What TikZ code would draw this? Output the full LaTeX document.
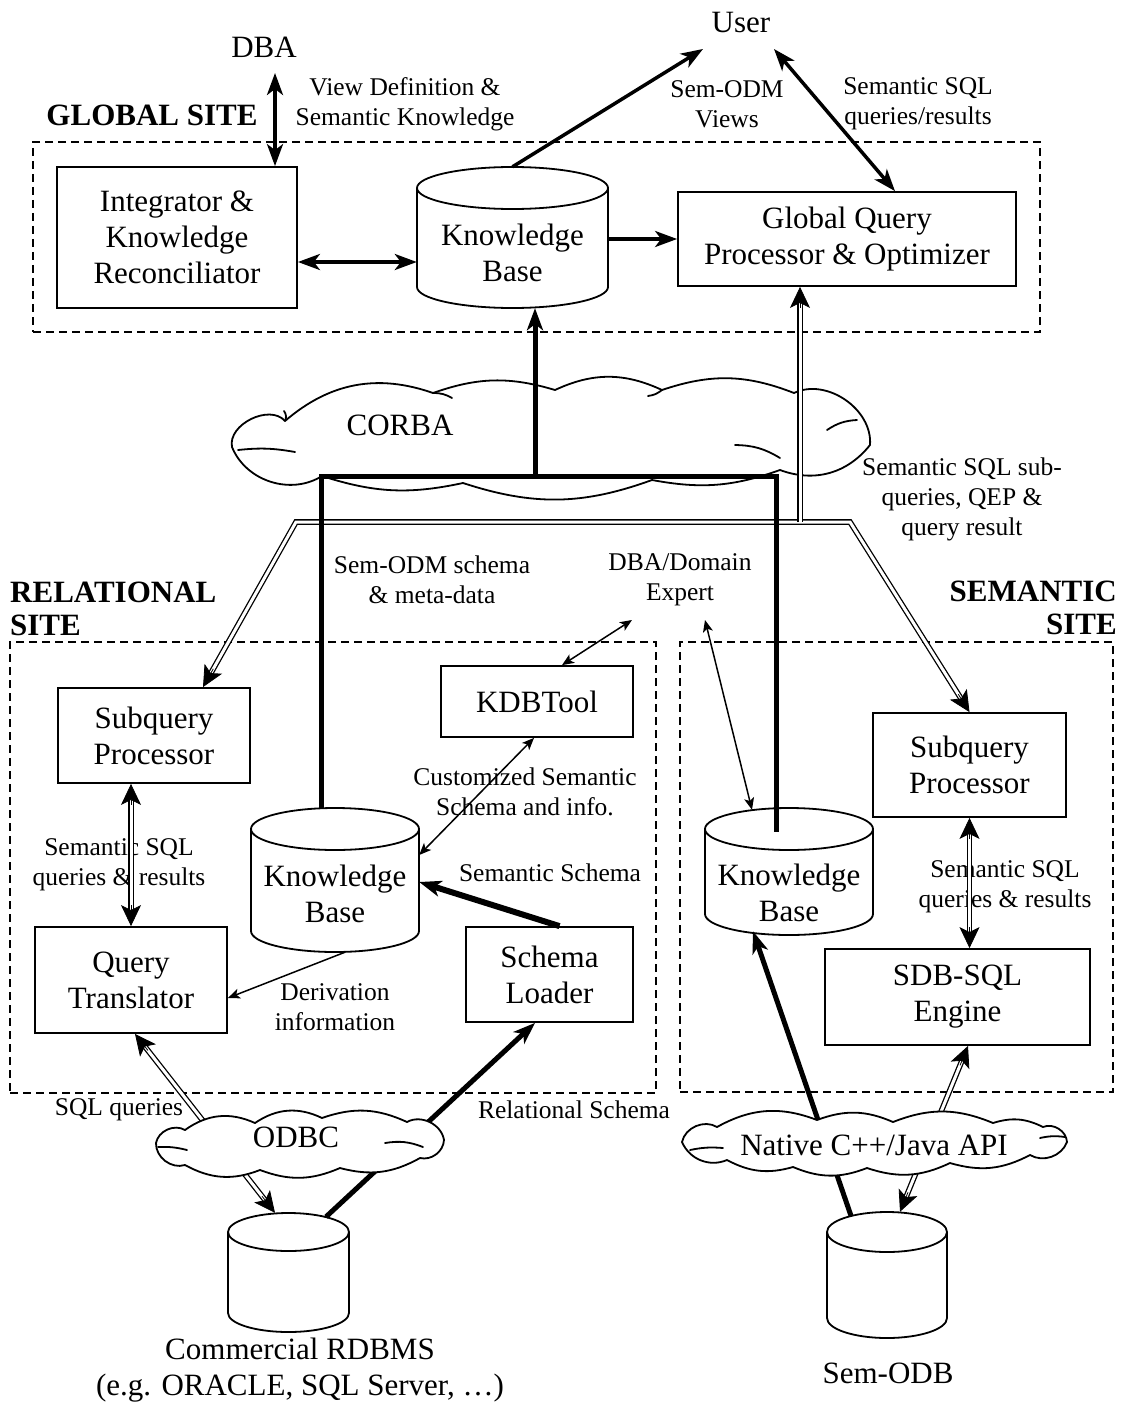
\documentclass[tikz,border=0pt]{standalone}
\usepackage{fontspec}
\setmainfont{Liberation Serif}
\usetikzlibrary{arrows.meta,calc}

\newcommand\mycyl[6]{%
 \fill[white] (#2,-#4-#6) -- (#2,-#5+#6) arc[start angle=180,end angle=360,x radius={(#3-#2)/2},y radius=#6] -- (#3,-#4-#6) -- cycle;
 \draw[line width=1.8pt] (#2,-#4-#6) -- (#2,-#5+#6) arc[start angle=180,end angle=360,x radius={(#3-#2)/2},y radius=#6] -- (#3,-#4-#6);
 \draw[line width=1.8pt, fill=white] ({(#2+#3)/2},-#4-#6) ellipse [x radius={(#3-#2)/2},y radius=#6];
 \node[inner sep=0pt, minimum width={(#3-#2)*1pt}, minimum height={(#5-#4)*1pt}] (#1) at ({(#2+#3)/2},{-(#4+#5)/2}) {};
}
% arrow tip placed at #2, coming from #1 (for double lines)
\newcommand\dtip[2]{\draw[line width=0.8pt,-dhd] ($(#2)!21pt!(#1)$) -- (#2);}

\tikzset{
 big/.style={font=\fontsize{31}{36}\selectfont, align=center, inner sep=0pt},
 lbl/.style={font=\fontsize{25.5}{30}\selectfont, align=center, inner sep=0pt},
 sitelbl/.style={font=\bfseries\fontsize{31}{33}\selectfont, inner sep=0pt},
 box/.style={draw, line width=1.8pt, big},
 sitebox/.style={draw, line width=1.8pt, dash pattern=on 8pt off 5pt, inner sep=0pt},
 cloudline/.style={draw, fill=white, line width=1.8pt, line join=round},
 curl/.style={line width=1.8pt, line cap=round},
 hd/.tip={Stealth[length=22pt,width=16pt,inset=6pt]},
 thd/.tip={Stealth[length=12pt,width=10pt,inset=3pt]},
 dhd/.tip={Stealth[length=21pt,width=20pt,inset=5pt]},
 tharr/.style={line width=3.5pt},
 tnarr/.style={line width=1.5pt},
 bus/.style={line width=5pt},
 dbl/.style={double, double distance=3pt, line width=1.3pt},
}

\begin{document}
\begin{tikzpicture}[x=1pt,y=1pt]
\fill[white] (0,0) rectangle (1123,-1407);
\useasboundingbox (0,0) rectangle (1123,-1407);

% site boxes
\node[sitebox, minimum width=1007pt, minimum height=190pt] (gsite) at (536.5,-237) {};
\node[sitebox, minimum width=646pt, minimum height=451pt] (rsite) at (333,-867.5) {};
\node[sitebox, minimum width=433pt, minimum height=450pt] (ssite) at (896.5,-867) {};

% site labels
\node[sitelbl] (glbl) at (152,-115) {GLOBAL SITE};
\node[sitelbl, anchor=west, align=left] (rlbl) at (10,-608.5) {RELATIONAL\\SITE};
\node[sitelbl, anchor=east, align=right] (slbl) at (1117,-608) {SEMANTIC\\SITE};

% top actors
\node[big] (dba) at (264,-47) {DBA};
\node[big] (user) at (741,-23) {User};

% global site
\node[box, minimum width=240pt, minimum height=141pt] (int) at (177,-237.5) {Integrator \&\\Knowledge\\Reconciliator};
\mycyl{kbg}{417}{608}{167}{308}{21}
\node[big] (kbgt) at (512.5,-253) {Knowledge\\Base};
\node[box, minimum width=338pt, minimum height=94pt] (gqp) at (847,-239) {Global Query\\Processor \& Optimizer};

% labels top
\node[lbl] (l1) at (405,-104) {View Definition \&\\Semantic Knowledge};
\node[lbl] (l2) at (727,-104) {Sem-ODM\\Views};
\node[lbl] (l3) at (918,-104) {Semantic SQL\\queries/results};

% top arrows
\draw[tharr, hd-hd] ($(dba)+(11,-26)$) -- ([xshift=98pt]int.north);
\draw[tharr, hd-hd] ([yshift=-24.5pt]int.east) -- ([yshift=-24.5pt]kbg.west);
\draw[tharr, -hd] (kbg.east |- gqp.west) -- (gqp.west);
\draw[tharr, -hd] (kbg.north) -- ($(user)+(-38,-26)$);
\draw[tharr, hd-hd] ($(user)+(33,-26)$) -- ([xshift=48pt]gqp.north);

% CORBA cloud
\node[inner sep=0pt, minimum width=647pt, minimum height=117pt] (corba) at (548,-441) {};
\path[cloudline] (870,-445) to[bend right=60] (794,-393) to[bend right=20] (662,-390)
  to[bend right=25] (555,-390) to[bend right=18] (433,-393) to[bend right=30] (285,-421)
  to[bend right=75] (232,-447) to[bend right=50] (322,-476) to[bend right=15] (463,-483)
  to[bend right=19] (652,-480) to[bend right=15] (780,-470) to[bend right=36] (870,-445) -- cycle;
\draw[curl] (433,-393) to[bend left=15] (452,-398);
\draw[curl] (285,-421) to[bend right=30] (284,-411);
\draw[curl] (238,-450) to[bend left=8] (295,-452);
\draw[curl] (827,-430) to[bend left=15] (857,-420);
\draw[curl] (735,-445) to[bend left=15] (780,-458);
\draw[curl] (662,-390) to[bend left=15] (648,-396);
\node[big] (corbat) at (400,-425) {CORBA};

% coordinates of the bus and of the double-line network
\coordinate (busl) at (321,-476);
\coordinate (busr) at (776,-476);
\coordinate (busc) at (535,-476);
\coordinate (tl) at (296,-522);
\coordinate (tr) at (850,-522);
\coordinate (tv) at (800,-522);

% relational site
\node[box, minimum width=192pt, minimum height=95pt] (srp) at (154,-735.5) {Subquery\\Processor};
\node[box, minimum width=192pt, minimum height=71pt] (kdb) at (537,-701.5) {KDBTool};
\mycyl{kbr}{251}{419}{808}{952}{21}
\node[big] (kbrt) at (335,-894) {Knowledge\\Base};
\node[box, minimum width=192pt, minimum height=106pt] (qt) at (131,-980) {Query\\Translator};
\node[box, minimum width=167pt, minimum height=95pt] (sl) at (549.5,-974.5) {Schema\\Loader};

% semantic site
\node[box, minimum width=193pt, minimum height=104pt] (ssp) at (969.5,-765) {Subquery\\Processor};
\mycyl{kbs}{705}{873}{808}{935}{21}
\node[big] (kbst) at (789,-893) {Knowledge\\Base};
\node[box, minimum width=265pt, minimum height=96pt] (sdb) at (957.5,-997) {SDB-SQL\\Engine};

% bottom databases
\mycyl{rdb}{228}{349}{1213}{1332}{19}
\mycyl{sodb}{827}{947}{1212}{1338}{20}
\node[big] (rdbt) at (300,-1370) {Commercial RDBMS\\(e.g. ORACLE, SQL Server, \dots)};
\node[big] (sodbt) at (888,-1373) {Sem-ODB};

% end points of double lines
\coordinate (d1) at ([xshift=49pt]srp.north);
\coordinate (d2) at (ssp.north);
\coordinate (d3) at (gqp.south -| tv);
\coordinate (d4) at (srp.south -| qt.north);
\coordinate (d5) at (qt.north);
\coordinate (d6) at (ssp.south);
\coordinate (d7) at (sdb.north -| ssp.south);
\coordinate (d8) at ([xshift=4pt]qt.south);
\coordinate (d9) at ([xshift=-13.5pt]rdb.north);
\coordinate (d10) at ([xshift=10.5pt]sdb.south);
\coordinate (d11) at ([xshift=13pt]sodb.north);

% double-line network
\draw[dbl, line join=miter, shorten <=12pt, shorten >=12pt] (d1) -- (tl) -- (tr) -- (d2);
\dtip{tl}{d1} \dtip{tr}{d2}
\draw[dbl, shorten >=12pt] (tv) -- (d3);
\dtip{tv}{d3}

% bus
\draw[bus, line join=miter] (kbr.north -| busl) -- (busl) -- (busr) -- ($(kbs.north -| busr)+(0,-24)$);
\draw[bus, -hd] (busc) -- (kbg.south -| busc);

% middle labels
\node[lbl] (l4) at (962,-499) {Semantic SQL sub-\\queries, QEP \&\\query result};
\node[lbl] (l5) at (432,-580) {Sem-ODM schema\\\& meta-data};
\node[lbl] (dbadom) at (680,-580) {DBA/Domain\\Expert};
\node[lbl] (l6) at (525,-792) {Customized Semantic\\Schema and info.};
\node[lbl] (l7) at (119,-865) {Semantic SQL\\queries \& results};
\node[lbl] (l8) at (550,-873) {Semantic Schema};
\node[lbl] (l9) at (335,-1007) {Derivation\\information};
\node[lbl] (l10) at (1005,-887) {Semantic SQL\\queries \& results};

% relational connectors
\draw[dbl, shorten <=12pt, shorten >=12pt] (d4) -- (d5);
\dtip{d5}{d4} \dtip{d4}{d5}
\draw[tnarr, thd-thd] ([xshift=-3pt]kdb.south) -- ([yshift=25pt]kbr.east);
\draw[tnarr, thd-thd] ($(dbadom)+(-48,-40)$) -- ([xshift=25pt]kdb.north);
\draw[tnarr, thd-thd] ($(dbadom)+(25,-40)$) -- ([xshift=-37pt,yshift=-2pt]kbs.north);
\draw[line width=6pt, -hd] ([xshift=10pt]sl.north) -- ([yshift=-2pt]kbr.east);
\draw[tnarr, -thd] ([xshift=10pt]kbr.south) -- ([yshift=-18pt]qt.east);

% semantic connectors
\draw[dbl, shorten <=12pt, shorten >=12pt] (d6) -- (d7);
\dtip{d7}{d6} \dtip{d6}{d7}

% bottom connectors
\draw[dbl, shorten <=12pt, shorten >=12pt] (d8) -- (d9);
\dtip{d9}{d8} \dtip{d8}{d9}
\draw[line width=5pt, -hd] ([xshift=37.5pt,yshift=-4pt]rdb.north) -- ([xshift=-14.5pt]sl.south);
\draw[line width=5pt, -hd] ([xshift=-36pt,yshift=-4pt]sodb.north) -- ([xshift=-36pt,yshift=4pt]kbs.south);
\draw[dbl, shorten <=12pt, shorten >=12pt] (d10) -- (d11);
\dtip{d11}{d10} \dtip{d10}{d11}

% ODBC cloud
\node[inner sep=0pt, minimum width=288pt, minimum height=55pt] (odbc) at (300,-1142) {};
\path[cloudline] (444,-1140) to[bend right=55] (407,-1122) to[bend right=22] (322,-1118)
  to[bend right=30] (255,-1123) to[bend right=30] (185,-1130) to[bend right=55] (156,-1143)
  to[bend right=55] (185,-1165) to[bend right=25] (260,-1170) to[bend right=22] (340,-1168)
  to[bend right=22] (420,-1158) to[bend right=50] (444,-1140) -- cycle;
\draw[curl] (158,-1147) to[bend left=8] (187,-1150);
\draw[curl] (385,-1143) to[bend left=15] (423,-1147);
\node[big] (odbct) at (296,-1137) {ODBC};

% Native API cloud
\node[inner sep=0pt, minimum width=385pt, minimum height=53pt] (nat) at (874,-1141) {};
\path[cloudline] (1067,-1142) to[bend right=55] (1043,-1127) to[bend right=22] (993,-1123)
  to[bend right=22] (893,-1122) to[bend right=22] (817,-1120) to[bend right=25] (717,-1127)
  to[bend right=55] (682,-1142) to[bend right=45] (727,-1160) to[bend right=22] (793,-1167)
  to[bend right=22] (867,-1168) to[bend right=22] (950,-1163) to[bend right=22] (1030,-1155)
  to[bend right=50] (1067,-1142) -- cycle;
\draw[curl] (690,-1150) to[bend left=8] (723,-1148);
\draw[curl] (1040,-1138) to[bend left=10] (1065,-1137);
\node[big] (natt) at (874,-1145) {Native C++/Java API};

\node[lbl] (l11) at (119,-1110) {SQL queries};
\node[lbl] (l12) at (574,-1110) {Relational Schema};
\end{tikzpicture}
\end{document}
